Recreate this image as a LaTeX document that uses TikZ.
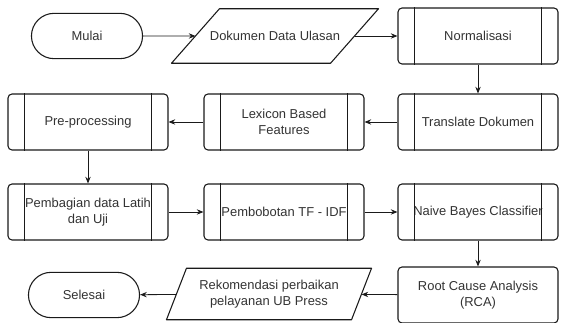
\documentclass[tikz,border=0pt]{standalone}
\usepackage{fontspec}
\setmainfont{Liberation Sans}
\usetikzlibrary{arrows.meta,shapes.misc}
\definecolor{lnblack}{HTML}{1A1A1A}
\definecolor{txgray}{HTML}{333333}

\begin{document}
\begin{tikzpicture}[x=0.75pt,y=-0.75pt,
  font=\fontsize{9.7}{11.6}\selectfont,
  box/.style={draw=lnblack,line width=0.8pt,text=txgray,align=center,fill=white},
  proc/.style={box,rounded corners=3pt,minimum width=120pt,minimum height=42pt,inner sep=1pt},
  term/.style={box,rounded rectangle,minimum width=90pt,minimum height=34pt},
  iotext/.style={text=txgray,align=center,inner sep=1pt},
  ioline/.style={draw=lnblack,line width=0.8pt,line join=round},
  arr/.style={lnblack,line width=0.6pt,-{Stealth[length=5pt,width=4pt]}}]

  \useasboundingbox (0,0) rectangle (561,323);

  % ---------------------------------------------------------------
  % row 1
  % ---------------------------------------------------------------
  \node[term] (mulai) at (87,36) {Mulai};
  \node[iotext,minimum width=118.9pt,minimum height=40.5pt] (dok) at (275,36) {Dokumen Data Ulasan};
  \draw[ioline] ([xshift=-18pt]dok.south west) -- ([xshift=18pt]dok.north west)
        -- ([xshift=18pt]dok.north east) -- ([xshift=-18pt]dok.south east) -- cycle;
  \node[proc] (norm) at (478,36) {Normalisasi};

  % ---------------------------------------------------------------
  % row 2
  % ---------------------------------------------------------------
  \node[proc] (trans) at (478,122) {Translate Dokumen};
  \node[proc] (lex) at (284,122) {Lexicon Based\\Features};
  \node[proc] (pre) at (88,122) {Pre-processing};

  % ---------------------------------------------------------------
  % row 3
  % ---------------------------------------------------------------
  \node[proc] (bagi) at (88,212) {Pembagian data Latih\\dan Uji};
  \node[proc] (bobot) at (284,212) {Pembobotan TF - IDF};
  \node[proc] (nb) at (478,212) {Naive Bayes Classifier};

  % ---------------------------------------------------------------
  % row 4
  % ---------------------------------------------------------------
  \node[box,rounded corners=3pt,minimum width=120pt,minimum height=42pt]
        (rca) at (478,295) {Root Cause Analysis\\(RCA)};
  \node[iotext,minimum width=138.4pt,minimum height=38.25pt] (rekom) at (269,294)
        {Rekomendasi perbaikan\\pelayanan UB Press};
  \draw[ioline] ([xshift=-7.5pt]rekom.south west) -- ([xshift=7.5pt]rekom.north west)
        -- ([xshift=7.5pt]rekom.north east) -- ([xshift=-7.5pt]rekom.south east) -- cycle;
  \node[term] (selesai) at (84,295) {Selesai};

  % double side bars of the process boxes
  \foreach \n in {norm,trans,lex,pre,bagi,bobot,nb}{
    \draw[lnblack,line width=0.8pt] ([xshift=12.75pt]\n.north west) -- ([xshift=12.75pt]\n.south west);
    \draw[lnblack,line width=0.8pt] ([xshift=-12.75pt]\n.north east) -- ([xshift=-12.75pt]\n.south east);
  }

  % connectors
  \draw[arr] (mulai) -- (dok);
  \draw[arr] (dok) -- (norm);
  \draw[arr] (norm) -- (trans);
  \draw[arr] (trans) -- (lex);
  \draw[arr] (lex) -- (pre);
  \draw[arr] (pre) -- (bagi);
  \draw[arr] (bagi) -- (bobot);
  \draw[arr] (bobot) -- (nb);
  \draw[arr] (nb) -- (rca);
  \draw[arr] (rca) -- (rekom);
  \draw[arr] (rekom) -- (selesai);

\end{tikzpicture}
\end{document}
